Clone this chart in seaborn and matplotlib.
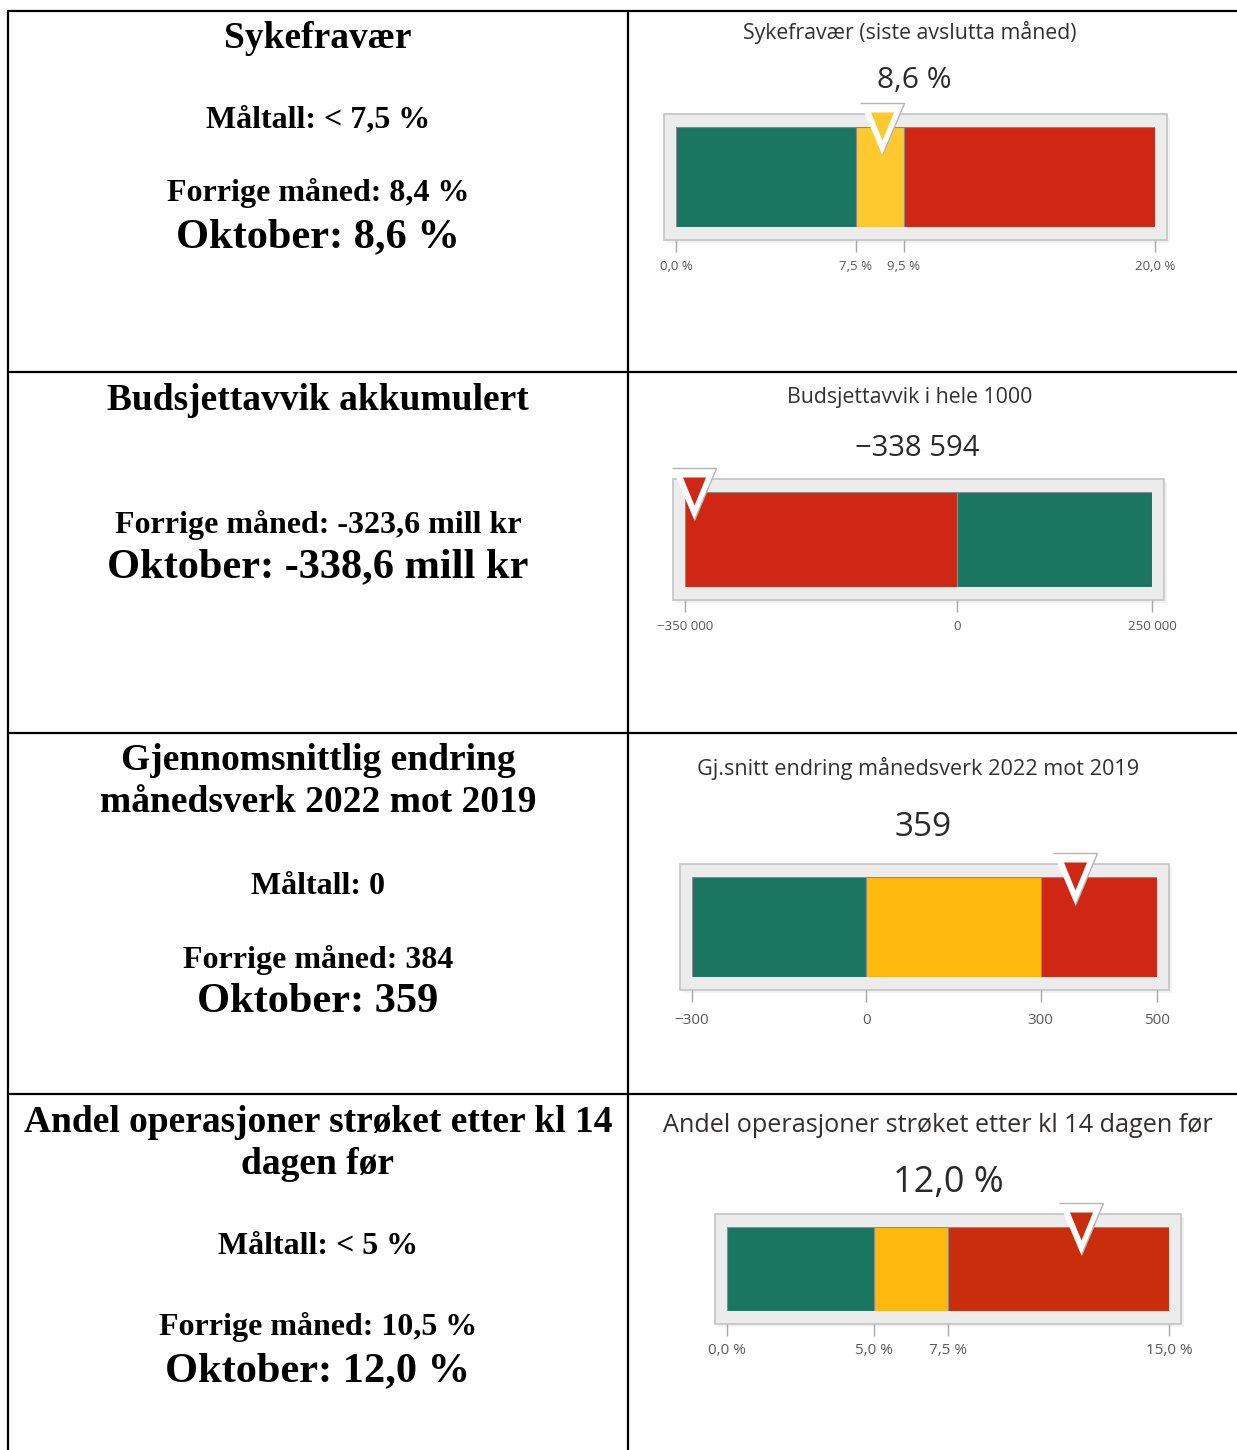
import matplotlib
matplotlib.use("Agg")
import matplotlib.pyplot as plt
from matplotlib.lines import Line2D
from matplotlib.patches import Rectangle
import seaborn as sns

# tekst i venstre kolonne (en rad per indikator)
left_titles = [["Sykefravær"],
               ["Budsjettavvik akkumulert"],
               ["Gjennomsnittlig endring", "månedsverk 2022 mot 2019"],
               ["Andel operasjoner strøket etter kl 14", "dagen før"]]
left_targets = ["Måltall: < 7,5 %", None, "Måltall: 0", "Måltall: < 5 %"]
left_previous = ["Forrige måned: 8,4 %", "Forrige måned: -323,6 mill kr",
                 "Forrige måned: 384", "Forrige måned: 10,5 %"]
left_current = ["Oktober: 8,6 %", "Oktober: -338,6 mill kr",
                "Oktober: 359", "Oktober: 12,0 %"]

# gauge-data (høyre kolonne)
gauge_titles = ["Sykefravær (siste avslutta måned)",
                "Budsjettavvik i hele 1000",
                "Gj.snitt endring månedsverk 2022 mot 2019",
                "Andel operasjoner strøket etter kl 14 dagen før"]
gauge_values = [8.6, -338594, 359, 12.0]
gauge_value_labels = ["8,6 %", "\u2212338 594", "359", "12,0 %"]
band_edges = [[0, 7.5, 9.5, 20],
              [-350000, 0, 250000],
              [-300, 0, 300, 500],
              [0, 5, 7.5, 15]]
band_colors = [["#1b7661", "#fec92f", "#d02614"],
               ["#d02614", "#1b7661"],
               ["#1b7661", "#fdba0c", "#d02614"],
               ["#1b7661", "#fdba0c", "#c92d0b"]]
tick_labels = [["0,0 %", "7,5 %", "9,5 %", "20,0 %"],
               ["\u2212350 000", "0", "250 000"],
               ["\u2212300", "0", "300", "500"],
               ["0,0 %", "5,0 %", "7,5 %", "15,0 %"]]

# layout i piksler
W, H = 1237, 1450
bar_boxes = [(676, 1155, 127, 227), (685, 1152, 492, 587),
             (692, 1157, 877, 977), (727, 1169, 1227, 1311)]
title_pos = [(910, 32, 15.3), (910, 398, 15.3), (918, 768, 15.6), (938, 1126, 18.2)]
value_pos = [(914, 81, 21.5), (917, 448, 21), (923, 828, 24), (948, 1183, 26)]
tick_size = [9.5, 9.5, 11, 11]
tick_pad = [6, 6, 8, 5]
left_y = [dict(title=[35], target=117, prev=190, cur=234),
          dict(title=[397], target=None, prev=522, cur=564),
          dict(title=[758, 800], target=883, prev=957, cur=999),
          dict(title=[1119, 1162], target=1244, prev=1324, cur=1368)]

sns.set_style("white")
plt.rcParams['font.family'] = ['Open Sans', 'DejaVu Sans']

fig = plt.figure(figsize=(W / 100, H / 100), dpi=100)


def fx(x):
    return x / W


def fy(y):
    return 1 - y / H


# tabell-linjer
lw = 1.6
for y in [11, 372, 733, 1094]:
    fig.add_artist(Line2D([fx(8), 1], [fy(y), fy(y)], color="black", lw=lw))
for x in [8, 628]:
    fig.add_artist(Line2D([fx(x), fx(x)], [fy(11), 0], color="black", lw=lw))

# venstre kolonne
serif = "Liberation Serif"
cx = 318
dy = 3  # va=center tar med descendere, flytt litt ned
for i in range(4):
    pos = left_y[i]
    for line, y in zip(left_titles[i], pos["title"]):
        fig.text(fx(cx), fy(y + dy), line, ha="center", va="center", family=serif,
                 weight="bold", fontsize=27, color="black")
    if left_targets[i] is not None:
        fig.text(fx(cx), fy(pos["target"] + dy), left_targets[i], ha="center", va="center",
                 family=serif, weight="bold", fontsize=23, color="black")
    fig.text(fx(cx), fy(pos["prev"] + dy), left_previous[i], ha="center", va="center",
             family=serif, weight="bold", fontsize=23, color="black")
    fig.text(fx(cx), fy(pos["cur"] + dy), left_current[i], ha="center", va="center",
             family=serif, weight="bold", fontsize=30.5, color="black")

# høyre kolonne: gauges
outer_tri = [(-22, 24), (22, 24), (0, -28)]
inner_tri = [(-11.5, 15), (11.5, 15), (0, -13)]

for i in range(4):
    x0, x1, y0, y1 = bar_boxes[i]
    ax = fig.add_axes([fx(x0), fy(y1), (x1 - x0) / W, (y1 - y0) / H])
    ax.patch.set_alpha(0)
    edges = band_edges[i]
    segs = list(zip(edges[:-1], edges[1:], band_colors[i]))

    # ramme + skygge
    px, py = 12 / (x1 - x0), 13 / (y1 - y0)
    ax.add_patch(Rectangle((-px + 3 / (x1 - x0), -py - 3 / (y1 - y0)), 1 + 2 * px, 1 + 2 * py,
                           transform=ax.transAxes, clip_on=False, facecolor="#f2f2f2",
                           edgecolor="none", zorder=0))
    ax.add_patch(Rectangle((-px, -py), 1 + 2 * px, 1 + 2 * py, transform=ax.transAxes,
                           clip_on=False, facecolor="#ececec", edgecolor="#c4c4c4",
                           lw=1.2, zorder=0.5))

    # segmentene tegnes som overlappende stolper fra 0
    neg = sorted([s for s in segs if s[1] <= 0], key=lambda s: s[0])
    pos = sorted([s for s in segs if s[0] >= 0], key=lambda s: -s[1])
    for lo, hi, c in neg:
        sns.barplot(x=[lo], y=[0], orient="y", color=c, saturation=1, width=1,
                    edgecolor="#8a8a8a", linewidth=0.8, errorbar=None, ax=ax)
    for lo, hi, c in pos:
        sns.barplot(x=[hi], y=[0], orient="y", color=c, saturation=1, width=1,
                    edgecolor="#8a8a8a", linewidth=0.8, errorbar=None, ax=ax)

    ax.set_xlim(edges[0], edges[-1])
    ax.set_ylim(-0.5, 0.5)
    ax.set_xlabel("")
    ax.set_ylabel("")
    ax.set_yticks([])
    ax.set_xticks(edges)
    ax.set_xticklabels(tick_labels[i])
    for s in ax.spines.values():
        s.set_visible(False)
    ax.spines["bottom"].set_position(("outward", 13 * 0.72))
    ax.tick_params(axis="x", bottom=True, direction="out", length=12 * 0.72, width=1,
                   color="#a8a8a8", labelsize=tick_size[i], labelcolor="#5a5a5a",
                   pad=tick_pad[i])

    # markør
    v = gauge_values[i]
    mc = [c for lo, hi, c in segs if lo <= v <= hi][0]
    ax.plot([v], [0.5], marker=outer_tri, markersize=56 * 0.72, markerfacecolor="white",
            markeredgecolor="#b5b5b5", markeredgewidth=1, linestyle="none",
            clip_on=False, zorder=5)
    ax.plot([v], [0.5], marker=inner_tri, markersize=30 * 0.72, markerfacecolor=mc,
            markeredgecolor="none", linestyle="none", clip_on=False, zorder=6)

    tx, ty, tfs = title_pos[i]
    fig.text(fx(tx), fy(ty), gauge_titles[i], ha="center", va="center",
             fontsize=tfs, color="#333130")
    vx, vy, vfs = value_pos[i]
    fig.text(fx(vx), fy(vy), gauge_value_labels[i], ha="center", va="center",
             fontsize=vfs, color="#2a2a2a")

fig.savefig("out.png", dpi=100, facecolor="white")
